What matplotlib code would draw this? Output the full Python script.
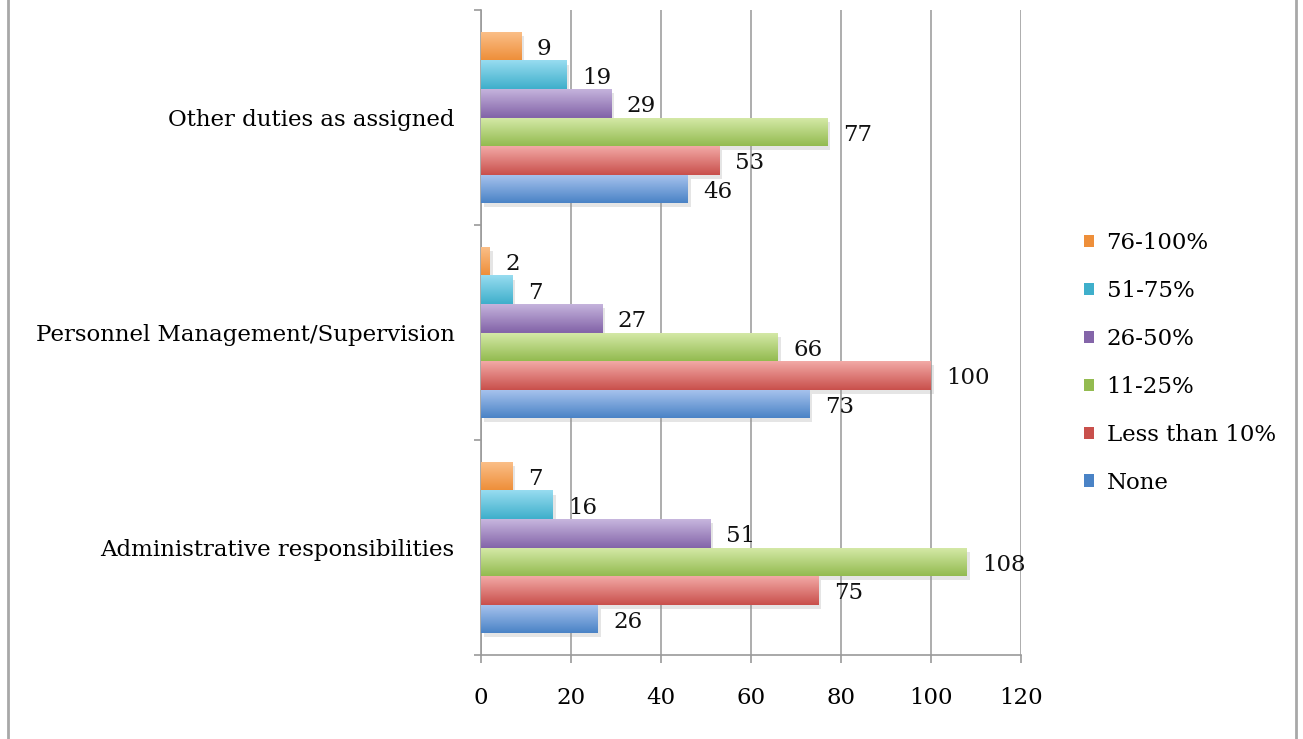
import numpy as np
import matplotlib
matplotlib.use('Agg')
from matplotlib import pyplot as plt
from matplotlib import patheffects
from matplotlib.colors import LinearSegmentedColormap
from matplotlib.lines import Line2D
from matplotlib.patches import Patch

categories = ['Administrative responsibilities', 'Personnel Management/Supervision', 'Other duties as assigned']
series = ['None', 'Less than 10%', '11-25%', '26-50%', '51-75%', '76-100%']
none_vals = [26, 73, 46]
less10_vals = [75, 100, 53]
p11_25_vals = [108, 66, 77]
p26_50_vals = [51, 27, 29]
p51_75_vals = [16, 7, 19]
p76_100_vals = [7, 2, 9]
values = [none_vals, less10_vals, p11_25_vals, p26_50_vals, p51_75_vals, p76_100_vals]

# (light top, dark bottom) per series
colors = [('#a9c4ee', '#4a83c6'),
          ('#f2a9a6', '#c9504c'),
          ('#d6eaa9', '#93bb50'),
          ('#c7b6de', '#8465a9'),
          ('#97dcf0', '#3fafcb'),
          ('#fbc08a', '#ee8f3a')]

plt.rcParams['font.family'] = ['DejaVu Serif']
fs = 16.5

fig = plt.figure(figsize=(13.03, 7.39), dpi=100)
ax = fig.add_axes([481 / 1303, 1 - 655 / 739, 540 / 1303, 645 / 739])

bar_h = 0.1326
y = np.arange(len(categories))
grad = np.linspace(0, 1, 64).reshape(-1, 1)

for i, (name, vals) in enumerate(zip(series, values)):
    pos = y + (i - 2.5) * bar_h
    bars = ax.barh(pos, vals, height=bar_h, color=colors[i][1], zorder=3,
                   path_effects=[patheffects.SimplePatchShadow(offset=(2, -3), shadow_rgbFace='#999999', alpha=0.25),
                                 patheffects.Normal()])
    cmap = LinearSegmentedColormap.from_list(name, [colors[i][1], colors[i][0]])
    for b, v, p in zip(bars, vals, pos):
        im = ax.imshow(grad, cmap=cmap, aspect='auto', origin='lower',
                       extent=[0, v, p - bar_h / 2, p + bar_h / 2], zorder=4)
        im.set_clip_path(b)
        ax.annotate(str(v), (v, p), xytext=(11, -2), textcoords='offset points',
                    ha='left', va='center', fontsize=fs, color='#111111', zorder=5)

ax.set_xlim(0, 120)
ax.set_ylim(-0.5, 2.5)
ax.set_xticks(range(0, 121, 20))
ax.set_yticks(y)
ax.set_yticklabels(categories, fontsize=fs)
ax.set_yticks([-0.5, 0.5, 1.5, 2.5], minor=True)
ax.tick_params(axis='y', which='major', length=0, pad=19)
ax.tick_params(axis='y', which='minor', length=5, color='#9a9a9a', width=1.2)
ax.tick_params(axis='x', length=6, color='#9a9a9a', width=1.2, pad=17, labelsize=fs)
ax.grid(axis='x', color='#a0a0a0', linewidth=1.2, zorder=0)
ax.set_axisbelow(True)
for s in ['top', 'right']:
    ax.spines[s].set_visible(False)
for s in ['left', 'bottom']:
    ax.spines[s].set_color('#9a9a9a')
    ax.spines[s].set_linewidth(1.2)

handles = [Patch(facecolor=colors[i][1], edgecolor='none') for i in range(len(series))][::-1]
fig.legend(handles, series[::-1], loc='center left', bbox_to_anchor=(1063 / 1303, 1 - 363 / 739),
           frameon=False, fontsize=fs, handlelength=0.45, handleheight=0.45,
           handletextpad=0.55, labelspacing=1.13)

fig.add_artist(Line2D([8 / 1303, 8 / 1303], [0, 1], color='#a8a8a8', linewidth=2))
fig.add_artist(Line2D([1296 / 1303, 1296 / 1303], [0, 1], color='#a8a8a8', linewidth=2))

fig.savefig('out.png', dpi=100)
